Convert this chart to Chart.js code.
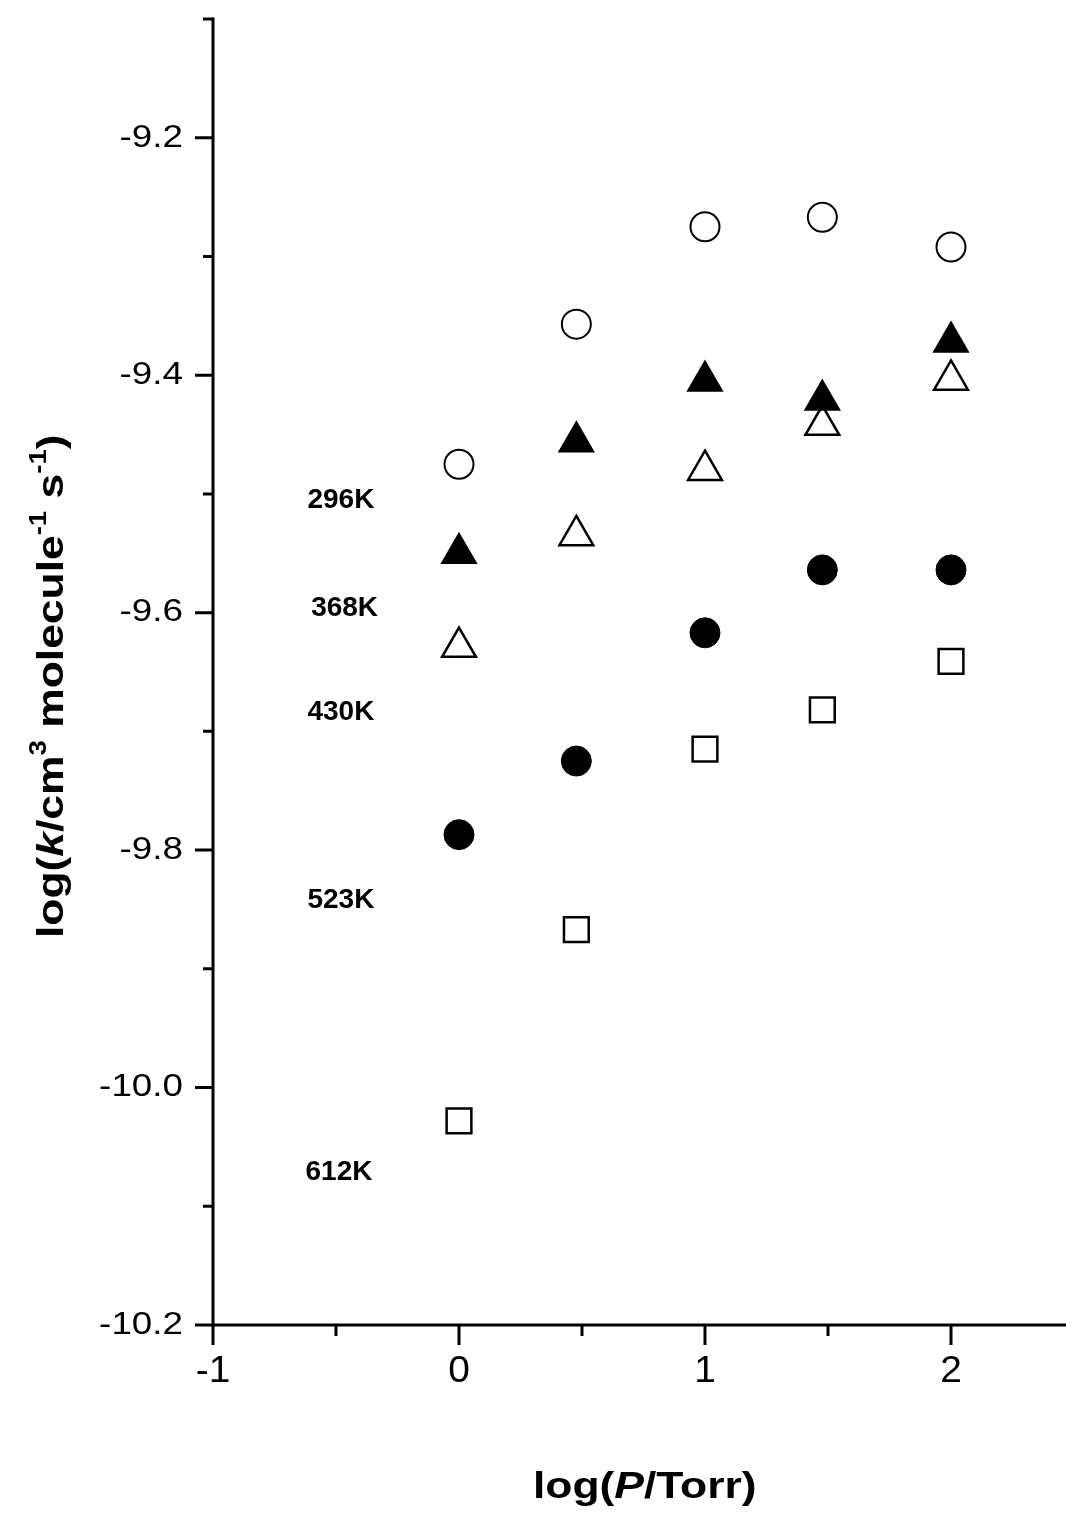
<!DOCTYPE html>
<html>
<head>
<meta charset="utf-8">
<script src="https://cdn.jsdelivr.net/npm/chart.js@4.4.1/dist/chart.umd.min.js"></script>
<style>
html,body{margin:0;padding:0;background:#fff;overflow:hidden;}
canvas{display:block;}
</style>
</head>
<body>
<canvas id="c" width="1066" height="1514"></canvas>
<script>
// ---- data ----
const logP = [0, 0.477, 1, 1.477, 2];
const k296 = [-9.475, -9.357, -9.275, -9.267, -9.292];
const k368 = [-9.550, -9.456, -9.405, -9.421, -9.372];
const k430 = [-9.629, -9.535, -9.480, -9.442, -9.404];
const k523 = [-9.787, -9.725, -9.617, -9.564, -9.564];
const k612 = [-10.028, -9.867, -9.715, -9.682, -9.641];

const tempLabels = ['296K', '368K', '430K', '523K', '612K'];
const tempLabelX = [-0.48, -0.465, -0.48, -0.48, -0.488];
const tempLabelY = [-9.505, -9.596, -9.684, -9.842, -10.071];

const xMajorTicks = [-1, 0, 1, 2];
const xMinorTicks = [-0.5, 0.5, 1.5];
const xTickLabels = ['-1', '0', '1', '2'];
const yMajorTicks = [-10.2, -10.0, -9.8, -9.6, -9.4, -9.2];
const yMinorTicks = [-10.1, -9.9, -9.7, -9.5, -9.3, -9.1];
const yTickLabels = ['-10.2', '-10.0', '-9.8', '-9.6', '-9.4', '-9.2'];

function pts(ys) { return logP.map((x, i) => ({x: x, y: ys[i]})); }

const FONT = "'Liberation Sans', Arial, Helvetica, sans-serif";

function drawRich(ctx, segs, x, y, size, stretch, angle) {
  const supSize = Math.round(size * 0.62);
  const fontFor = s => {
    if (s.sup) return 'bold ' + supSize + 'px ' + FONT;
    return (s.it ? 'italic ' : '') + 'bold ' + size + 'px ' + FONT;
  };
  let total = 0;
  segs.forEach(s => { ctx.font = fontFor(s); s.w = ctx.measureText(s.t).width; total += s.w; });
  ctx.save();
  ctx.translate(x, y);
  ctx.rotate(angle);
  ctx.scale(stretch, 1);
  ctx.textAlign = 'left';
  ctx.textBaseline = 'alphabetic';
  ctx.fillStyle = '#000';
  let cx = -total / 2;
  segs.forEach(s => {
    ctx.font = fontFor(s);
    ctx.fillText(s.t, cx, s.sup ? -size * 0.45 : 0);
    cx += s.w;
  });
  ctx.restore();
}

const axesPlugin = {
  id: 'axesPlugin',
  afterDraw(chart) {
    const ctx = chart.ctx;
    const xs = chart.scales.x, ys = chart.scales.y;
    const ca = chart.chartArea;
    ctx.save();
    ctx.strokeStyle = '#000';
    ctx.lineWidth = 3;
    ctx.lineCap = 'butt';
    // axis lines
    const x0 = xs.getPixelForValue(-1);
    const yb = ys.getPixelForValue(-10.2);
    ctx.beginPath();
    ctx.moveTo(x0, ys.getPixelForValue(-9.1) - 1.5);
    ctx.lineTo(x0, yb);
    ctx.moveTo(x0 - 1.5, yb);
    ctx.lineTo(ca.right + 10, yb);
    ctx.stroke();
    // y ticks
    ctx.beginPath();
    yMajorTicks.forEach(v => { const p = ys.getPixelForValue(v); ctx.moveTo(x0, p); ctx.lineTo(x0 - 18, p); });
    yMinorTicks.forEach(v => { const p = ys.getPixelForValue(v); ctx.moveTo(x0, p); ctx.lineTo(x0 - 10, p); });
    // x ticks
    xMajorTicks.forEach(v => { const p = xs.getPixelForValue(v); ctx.moveTo(p, yb); ctx.lineTo(p, yb + 20); });
    xMinorTicks.forEach(v => { const p = xs.getPixelForValue(v); ctx.moveTo(p, yb); ctx.lineTo(p, yb + 11); });
    ctx.stroke();

    ctx.fillStyle = '#000';
    // y tick labels
    yMajorTicks.forEach((v, i) => {
      const p = ys.getPixelForValue(v);
      ctx.save();
      ctx.translate(x0 - 30, p);
      ctx.scale(1.15, 1);
      ctx.font = '32px ' + FONT;
      ctx.textAlign = 'right';
      ctx.textBaseline = 'middle';
      ctx.fillText(yTickLabels[i], 0, 0);
      ctx.restore();
    });
    // x tick labels
    xMajorTicks.forEach((v, i) => {
      const p = xs.getPixelForValue(v);
      ctx.save();
      ctx.translate(p, yb + 47);
      ctx.scale(1.08, 1);
      ctx.font = '36px ' + FONT;
      ctx.textAlign = 'center';
      ctx.textBaseline = 'middle';
      ctx.fillText(xTickLabels[i], 0, 0);
      ctx.restore();
    });
    // temperature labels
    ctx.font = 'bold 28px ' + FONT;
    ctx.textAlign = 'center';
    ctx.textBaseline = 'middle';
    tempLabels.forEach((t, i) => {
      ctx.fillText(t, xs.getPixelForValue(tempLabelX[i]), ys.getPixelForValue(tempLabelY[i]));
    });
    // axis titles
    drawRich(ctx, [{t: 'log('}, {t: 'P', it: true}, {t: '/Torr)'}],
      xs.getPixelForValue(0.755), yb + 173, 37, 1.2, 0);
    drawRich(ctx, [{t: 'log('}, {t: 'k', it: true}, {t: '/cm'}, {t: '3', sup: true},
      {t: ' molecule'}, {t: '-1', sup: true}, {t: ' s'}, {t: '-1', sup: true}, {t: ')'}],
      63, ys.getPixelForValue(-9.662), 37, 1.2, -Math.PI / 2);
    ctx.restore();
  }
};

new Chart(document.getElementById('c'), {
  type: 'scatter',
  data: {
    datasets: [
      {label: '296K', data: pts(k296), pointStyle: 'circle', pointRadius: 14.5, borderWidth: 2,
       borderColor: '#000', backgroundColor: '#fff'},
      {label: '368K', data: pts(k368), pointStyle: 'triangle', pointRadius: 20, borderWidth: 1.5,
       borderColor: '#000', backgroundColor: '#000'},
      {label: '430K', data: pts(k430), pointStyle: 'triangle', pointRadius: 19.5, borderWidth: 2.5,
       borderColor: '#000', backgroundColor: '#fff'},
      {label: '523K', data: pts(k523), pointStyle: 'circle', pointRadius: 15, borderWidth: 1,
       borderColor: '#000', backgroundColor: '#000'},
      {label: '612K', data: pts(k612), pointStyle: 'rect', pointRadius: 17.5, borderWidth: 2.5,
       borderColor: '#000', backgroundColor: '#fff'}
    ]
  },
  options: {
    responsive: false,
    animation: false,
    events: [],
    layout: {autoPadding: false, padding: {left: 213, top: 19, right: 0, bottom: 189}},
    plugins: {legend: {display: false}, tooltip: {enabled: false}},
    scales: {
      x: {type: 'linear', min: -1, max: 2.4675, display: false},
      y: {type: 'linear', min: -10.2, max: -9.1, display: false}
    }
  },
  plugins: [axesPlugin]
});
</script>
</body>
</html>
